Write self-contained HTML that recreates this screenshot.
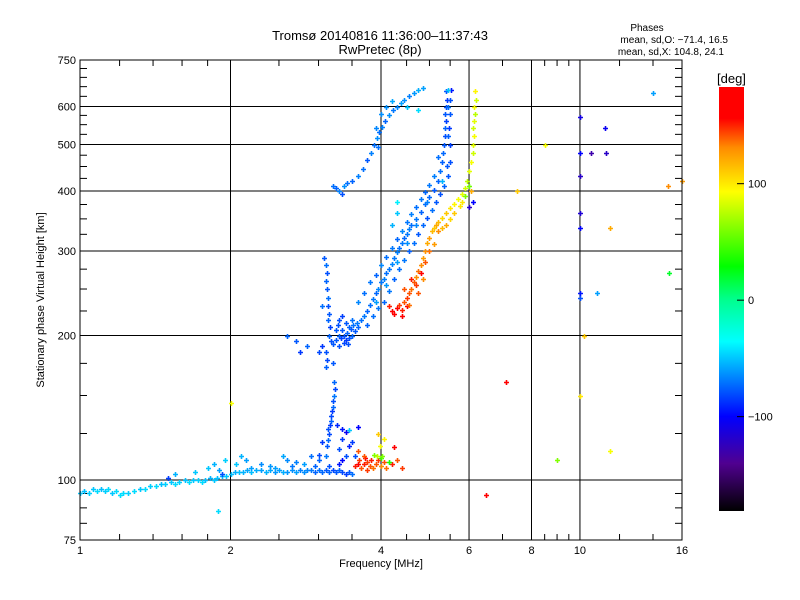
<!DOCTYPE html>
<html><head><meta charset="utf-8"><style>
body{margin:0;background:#fff;}
svg{display:block;font-family:"Liberation Sans",sans-serif;}
</style></head><body>
<svg id="chart" width="800" height="600" viewBox="0 0 800 600">
<defs><linearGradient id="cb" x1="0" y1="1" x2="0" y2="0">
<stop offset="0" stop-color="#000"/><stop offset="0.112" stop-color="#500090"/><stop offset="0.223" stop-color="#0000ff"/>
<stop offset="0.4" stop-color="#00ffff"/><stop offset="0.5" stop-color="#00ff8c"/><stop offset="0.577" stop-color="#00ff00"/>
<stop offset="0.753" stop-color="#ffff00"/><stop offset="0.857" stop-color="#ff8c00"/><stop offset="0.926" stop-color="#ff0000"/><stop offset="1" stop-color="#ff0000"/>
</linearGradient></defs>
<text x="380" y="40" text-anchor="middle" font-size="13">Tromsø 20140816 11:36:00–11:37:43</text>
<text x="380" y="54" text-anchor="middle" font-size="13">RwPretec (8p)</text>
<text x="647" y="31" text-anchor="middle" font-size="10">Phases</text>
<text x="728" y="43" text-anchor="end" font-size="10">mean, sd,O: −71.4, 16.5</text>
<text x="724" y="55" text-anchor="end" font-size="10">mean, sd,X: 104.8, 24.1</text>
<text x="44" y="300" text-anchor="middle" font-size="11" transform="rotate(-90 44 300)">Stationary phase Virtual Height [km]</text>
<text x="381" y="567" text-anchor="middle" font-size="11">Frequency [MHz]</text>
<g id="grid"></g>
<g id="ticks"></g>
<g id="pts"></g>
<rect x="80" y="60" width="602" height="480" fill="none" stroke="#000" stroke-width="1"/>
<rect x="719" y="87" width="25" height="424" fill="url(#cb)"/>
<text x="717" y="83" font-size="13">[deg]</text>
<g id="cbt"></g>
</svg>
<script>
const xTickVals=[1,2,4,6,8,10,16];
const xMinor=[1.2,1.4,1.6,1.8,2.5,3,3.5,4.5,5,5.5,7,8.5,9,9.5,12,14];
const yTickVals=[75,100,200,300,400,500,600,750];
const yGridVals=[100,200,300,400,500,600];
const yMinor=[81.25,87.5,93.75,125,150,175,225,250,275,325,350,375,425,450,475,525,550,575,630,660,690,720];
const cbTicks=[100,0,-100];
const eTrace=[[1.00,94,-50],[1.02,95,-52],[1.04,94,-48],[1.06,96,-50],[1.08,95,-45],[1.10,96,-52],[1.12,95,-48],[1.14,96,-45],[1.16,94,-50],[1.18,95,-45],[1.20,93,-44],[1.22,94,-45],[1.25,94,-48],[1.28,95,-45],[1.32,96,-50],[1.35,96,-45],[1.38,97,-48],[1.42,97,-45],[1.45,98,-52],[1.48,98,-48],[1.52,99,-50],[1.55,98,-45],[1.58,99,-48],[1.62,100,-52],[1.65,99,-45],[1.68,100,-50],[1.72,100,-48],[1.75,99,-45],[1.78,100,-52],[1.82,101,-55],[1.85,100,-50],[1.88,101,-52],[1.92,102,-54],[1.96,102,-50],[2.00,103,-52],[2.04,104,-56],[2.08,104,-52],[2.12,104,-55],[2.16,105,-58],[2.20,104,-52],[2.25,105,-56],[2.30,105,-60],[2.35,104,-55],[2.40,105,-58],[2.45,104,-62],[2.50,105,-60],[2.55,104,-56],[2.60,104,-62],[2.65,105,-64],[2.70,104,-60],[2.75,105,-68],[2.80,104,-64],[2.85,105,-66],[2.90,105,-70],[2.95,104,-75],[3.00,105,-72],[3.05,104,-74],[3.10,105,-78],[3.15,104,-75],[3.20,105,-82],[3.25,104,-78],[3.30,105,-75],[3.35,104,-82],[3.40,103,-85],[3.45,104,-78],[3.50,103,-72],
[1.55,103,-55],[1.7,104,-50],[2.1,112,-55],[2.15,110,-60],[2.3,108,-65],[2.45,106,-60],[2.55,112,-58],[2.7,109,-68],[2.8,108,-60],[2.05,108,-50],[1.95,110,-48],[1.9,105,-60],[2.6,110,-65],[2.9,112,-72],[3.0,110,-75],[3.3,108,-95],[3.35,110,-100],[3.4,112,-80],[3.45,118,-92],[3.5,120,-85],[3.3,116,-80],[3.35,122,-85],[1.8,106,-50],[1.85,108,-55],[1.92,103,-80],[1.89,86,-45],[1.5,101,-85],[2.0,145,90],[2.2,106,-60],[2.4,107,-62],[2.65,107,-70],[2.95,107,-75],[3.15,107,-80]];
const spike=[[3.10,112,-70],[3.12,118,-78],[3.14,121,-74],[3.15,125,-82],[3.16,130,-86],[3.18,133,-76],[3.17,136,-82],[3.19,139,-86],[3.21,142,-74],[3.20,146,-80],[3.22,150,-70],[3.24,155,-82],[3.22,160,-74],[3.26,130,-90],[3.13,128,-80],[3.05,120,-86],[3.0,113,-82],[3.35,128,-95],[3.4,126,-105],[3.45,127,-50],[3.6,129,-100],[3.55,112,-80]];
const orangeCluster=[[3.55,107,150],[3.6,108,155],[3.62,110,145],[3.65,106,140],[3.7,108,150],[3.72,111,160],[3.75,109,145],[3.8,107,140],[3.82,110,150],[3.85,106,135],[3.9,108,140],[3.95,110,145],[4.0,107,130],[4.05,109,140],[4.1,106,135],[3.88,113,60],[3.92,112,75],[4.0,111,40],[4.02,112,60],[3.98,118,90],[4.05,122,95],[3.95,125,110],[4.2,108,150],[4.3,110,140],[4.4,106,145],[4.25,117,165],[3.7,112,140],[3.75,105,145],[4.15,109,35],[3.6,115,140]];
const oTrace=[[3.08,290,-78],[3.1,280,-72],[3.12,270,-80],[3.1,260,-75],[3.12,250,-78],[3.14,240,-72],[3.13,230,-80],[3.15,222,-78],[3.14,215,-75],[3.16,208,-84],[3.15,200,-75],[3.18,195,-80],[3.2,192,-78],[3.05,190,-86],[3.1,185,-80],[3.12,178,-82],[3.1,172,-76],
[3.25,205,-78],[3.28,210,-80],[3.3,200,-75],[3.32,198,-84],[3.35,205,-78],[3.38,200,-80],[3.4,196,-86],[3.42,202,-75],[3.45,198,-80],[3.48,206,-78],[3.5,200,-75],[3.52,210,-72],[3.55,204,-78],[3.58,212,-70],[3.6,208,-75],[3.3,215,-80],[3.35,220,-84],[3.4,212,-78],[3.45,208,-76],[3.5,215,-72],[3.38,193,-82],[3.44,192,-80],[3.25,196,-78],
[3.65,215,-72],[3.7,220,-70],[3.75,225,-75],[3.8,232,-72],[3.85,238,-70],[3.9,245,-74],[3.95,250,-66],[4.0,258,-70],[4.05,262,-68],[4.1,270,-72],[4.15,275,-70],[4.2,282,-66],[4.25,290,-70],[4.3,298,-68],[4.35,305,-72],[4.4,312,-70],[4.45,320,-74],[4.5,326,-70],[4.55,333,-68],[4.6,340,-72],[4.7,350,-70],[4.8,362,-75],[4.9,375,-72],[5.0,388,-74],[5.1,402,-78],[5.2,420,-75],[5.25,440,-72],[5.3,460,-76],[5.32,480,-74],[5.35,500,-78],[5.36,520,-80],[5.38,540,-75],[5.4,560,-84],[5.38,580,-78],[5.4,600,-80],[5.42,620,-86],[5.4,645,-78],
[3.75,210,-75],[3.85,220,-72],[3.95,228,-70],[4.05,235,-74],[4.15,248,-70],[4.25,262,-75],[4.35,275,-72],[4.45,288,-70],[4.55,300,-76],[4.65,312,-72],[4.75,325,-78],[4.85,340,-74],[4.95,352,-80],[5.05,365,-72],[5.15,380,-78],[5.25,395,-80],[5.35,410,-75],[5.45,430,-78],[5.5,460,-80],[5.5,500,-84],[5.48,540,-86],[5.5,580,-78],[5.5,620,-80],[5.52,650,-95],
[3.6,235,-66],[3.7,245,-72],[3.8,258,-70],[3.9,268,-75],[4.0,280,-66],[4.1,292,-72],[4.2,305,-70],[4.3,318,-74],[4.4,330,-66],[4.5,345,-70],[4.6,358,-68],[4.7,370,-72],[4.8,385,-70],[4.9,398,-74],[5.0,412,-70],[5.1,430,-68],[5.3,420,-55],[5.2,470,-72],[5.45,650,-50],
[3.3,190,-80],[3.2,175,-78],[3.0,185,-82],[2.85,190,-75],[2.75,185,-86],[2.6,200,-75],[2.7,195,-78],[3.05,230,-72],[3.9,235,-60],[4.1,255,-62],[4.3,285,-60],[4.5,312,-64],[4.7,340,-66],[4.95,380,-68],[5.42,450,-78],[5.45,520,-76],[5.45,600,-72]];
const upperTrace=[[3.2,410,-72],[3.25,405,-75],[3.3,400,-68],[3.35,395,-80],[3.38,410,-64],[3.42,415,-72],[3.5,420,-75],[3.6,430,-68],[3.68,445,-72],[3.75,465,-78],[3.82,480,-68],[3.88,500,-72],[3.92,515,-64],[3.97,530,-72],[4.02,545,-68],[4.08,560,-75],[4.15,575,-64],[4.22,590,-70],[4.3,600,-66],[4.38,610,-60],[4.45,620,-64],[4.55,630,-68],[4.65,640,-62],[4.75,648,-56],[4.85,655,-60],[4.1,600,-64],[4.2,615,-58],[4.0,580,-64],[3.9,540,-66],[3.95,495,-72],[4.5,600,-50],[4.75,590,-45],[4.3,380,-40],[4.3,360,-50],[4.2,340,-55]];
const xTrace=[[4.15,230,150],[4.2,225,160],[4.25,222,165],[4.3,228,155],[4.35,232,145],[4.4,226,150],[4.45,235,140],[4.5,240,145],[4.55,245,140],[4.6,250,135],[4.65,258,140],[4.7,265,130],[4.75,272,135],[4.8,280,130],[4.85,290,125],[4.9,300,128],[4.95,312,120],[5.0,320,125],[5.05,330,115],[5.1,335,110],[5.15,340,120],[5.2,345,115],[5.3,352,105],[5.4,360,110],[5.5,368,100],[5.6,375,95],[5.7,385,90],[5.8,395,85],[5.9,405,80],[5.95,420,75],[6.0,440,85],[6.05,460,90],[6.1,480,80],[6.12,500,85],[6.15,520,90],[6.12,540,80],[6.15,560,85],[6.18,580,75],[6.15,600,90],[6.2,620,80],[6.18,645,95],[4.6,262,150],[4.7,255,145],[4.8,270,155],[4.9,285,140],[5.0,300,135],[4.75,245,140],[4.5,230,155],[4.45,250,140],[4.4,220,170],[5.2,330,130],[5.4,340,120],[5.6,360,110],[5.8,380,100],[5.9,390,60],[6.0,410,55],[6.05,400,120],[6.1,380,-100],[6.0,370,-120],[4.55,232,135],[4.85,262,130],[5.1,310,125],[5.3,335,115],[5.5,350,105],[5.75,372,100]];
const scattered=[[10,570,-110],[10,480,-100],[10,430,-120],[10,360,-115],[10,335,-100],[10,245,-95],[10,240,-80],[10,150,100],[10.5,480,-130],[11.2,540,-105],[11.3,480,-120],[11.5,335,120],[10.8,245,-60],[14,640,-60],[15,410,130],[16,420,125],[15.1,270,20],[9,110,60],[8.5,500,90],[7.5,400,110],[7.1,160,160],[6.5,93,160],[11.5,115,90],[10.2,200,110]];

const NS='http://www.w3.org/2000/svg';
const X0=80,X1=682,Y0=540,Y1=60;
function xScale(f){return X0+(X1-X0)*Math.log(f)/Math.log(16);}
function yScale(h){return Y0-(Y0-Y1)*Math.log(h/75)/Math.log(10);}
const cbStops=[[-181,[0,0,0]],[-140,[80,0,144]],[-100,[0,0,255]],[-36,[0,255,255]],[0,[0,255,140]],[28,[0,255,0]],[92,[255,255,0]],[130,[255,140,0]],[155,[255,0,0]],[183,[255,0,0]]];
function color(p){
  if(p<=cbStops[0][0])return 'rgb(0,0,0)';
  for(let i=1;i<cbStops.length;i++){if(p<=cbStops[i][0]){const a=cbStops[i-1],b=cbStops[i],t=(p-a[0])/(b[0]-a[0]);
    return 'rgb('+a[1].map((c,k)=>Math.round(c+(b[1][k]-c)*t)).join(',')+')';}}
  return 'rgb(255,0,0)';
}
function el(tag,attrs,parent){const e=document.createElementNS(NS,tag);for(const k in attrs)e.setAttribute(k,attrs[k]);parent.appendChild(e);return e;}
const grid=document.getElementById('grid'),ticks=document.getElementById('ticks');
xTickVals.forEach(v=>{const x=xScale(v);
  const g=el('line',{x1:x,x2:x,y1:Y1,y2:Y0,stroke:'#000','stroke-width':1},grid);
  
  
  const t=el('text',{x:x,y:554,'text-anchor':'middle','font-size':11},ticks);t.textContent=v;
  
  
});
xMinor.forEach(v=>{const x=xScale(v);
  el('line',{x1:x,x2:x,y1:Y0,y2:Y0-6,stroke:'#000'},ticks);
  el('line',{x1:x,x2:x,y1:Y1,y2:Y1+6,stroke:'#000'},ticks);
});
yGridVals.forEach(v=>{const y=yScale(v);
  const g=el('line',{x1:X0,x2:X1,y1:y,y2:y,stroke:'#000','stroke-width':1},grid);
  
  
});
yTickVals.forEach(v=>{const y=yScale(v);
  const t=el('text',{x:76,y:y+4,'text-anchor':'end','font-size':11},ticks);t.textContent=v;
  
  
});
yMinor.forEach(v=>{const y=yScale(v);
  el('line',{x1:X0,x2:X0+7,y1:y,y2:y,stroke:'#000'},ticks);
  el('line',{x1:X1,x2:X1-7,y1:y,y2:y,stroke:'#000'},ticks);
});
const pts=document.getElementById('pts');
[eTrace,spike,orangeCluster,oTrace,upperTrace,xTrace,scattered].forEach(arr=>arr.forEach(d=>{
  const x=Math.round(xScale(d[0])),y=Math.round(yScale(d[1]));
  const p=el('path',{d:'M'+(x-2)+' '+(y+0.5)+'h5M'+(x+0.5)+' '+(y-2)+'v5',stroke:color(d[2]),'stroke-width':1.6,fill:'none'},pts);
  
  
}));
const cbt=document.getElementById('cbt');
cbTicks.forEach(v=>{const y=87+424*(183-v)/364;
  el('line',{x1:737,x2:744,y1:y,y2:y,stroke:'#000'},cbt);
  const t=el('text',{x:748,y:y+4,'font-size':11},cbt);t.textContent=v===-100?'−100':v;
  
  
});
</script>
</body></html>
